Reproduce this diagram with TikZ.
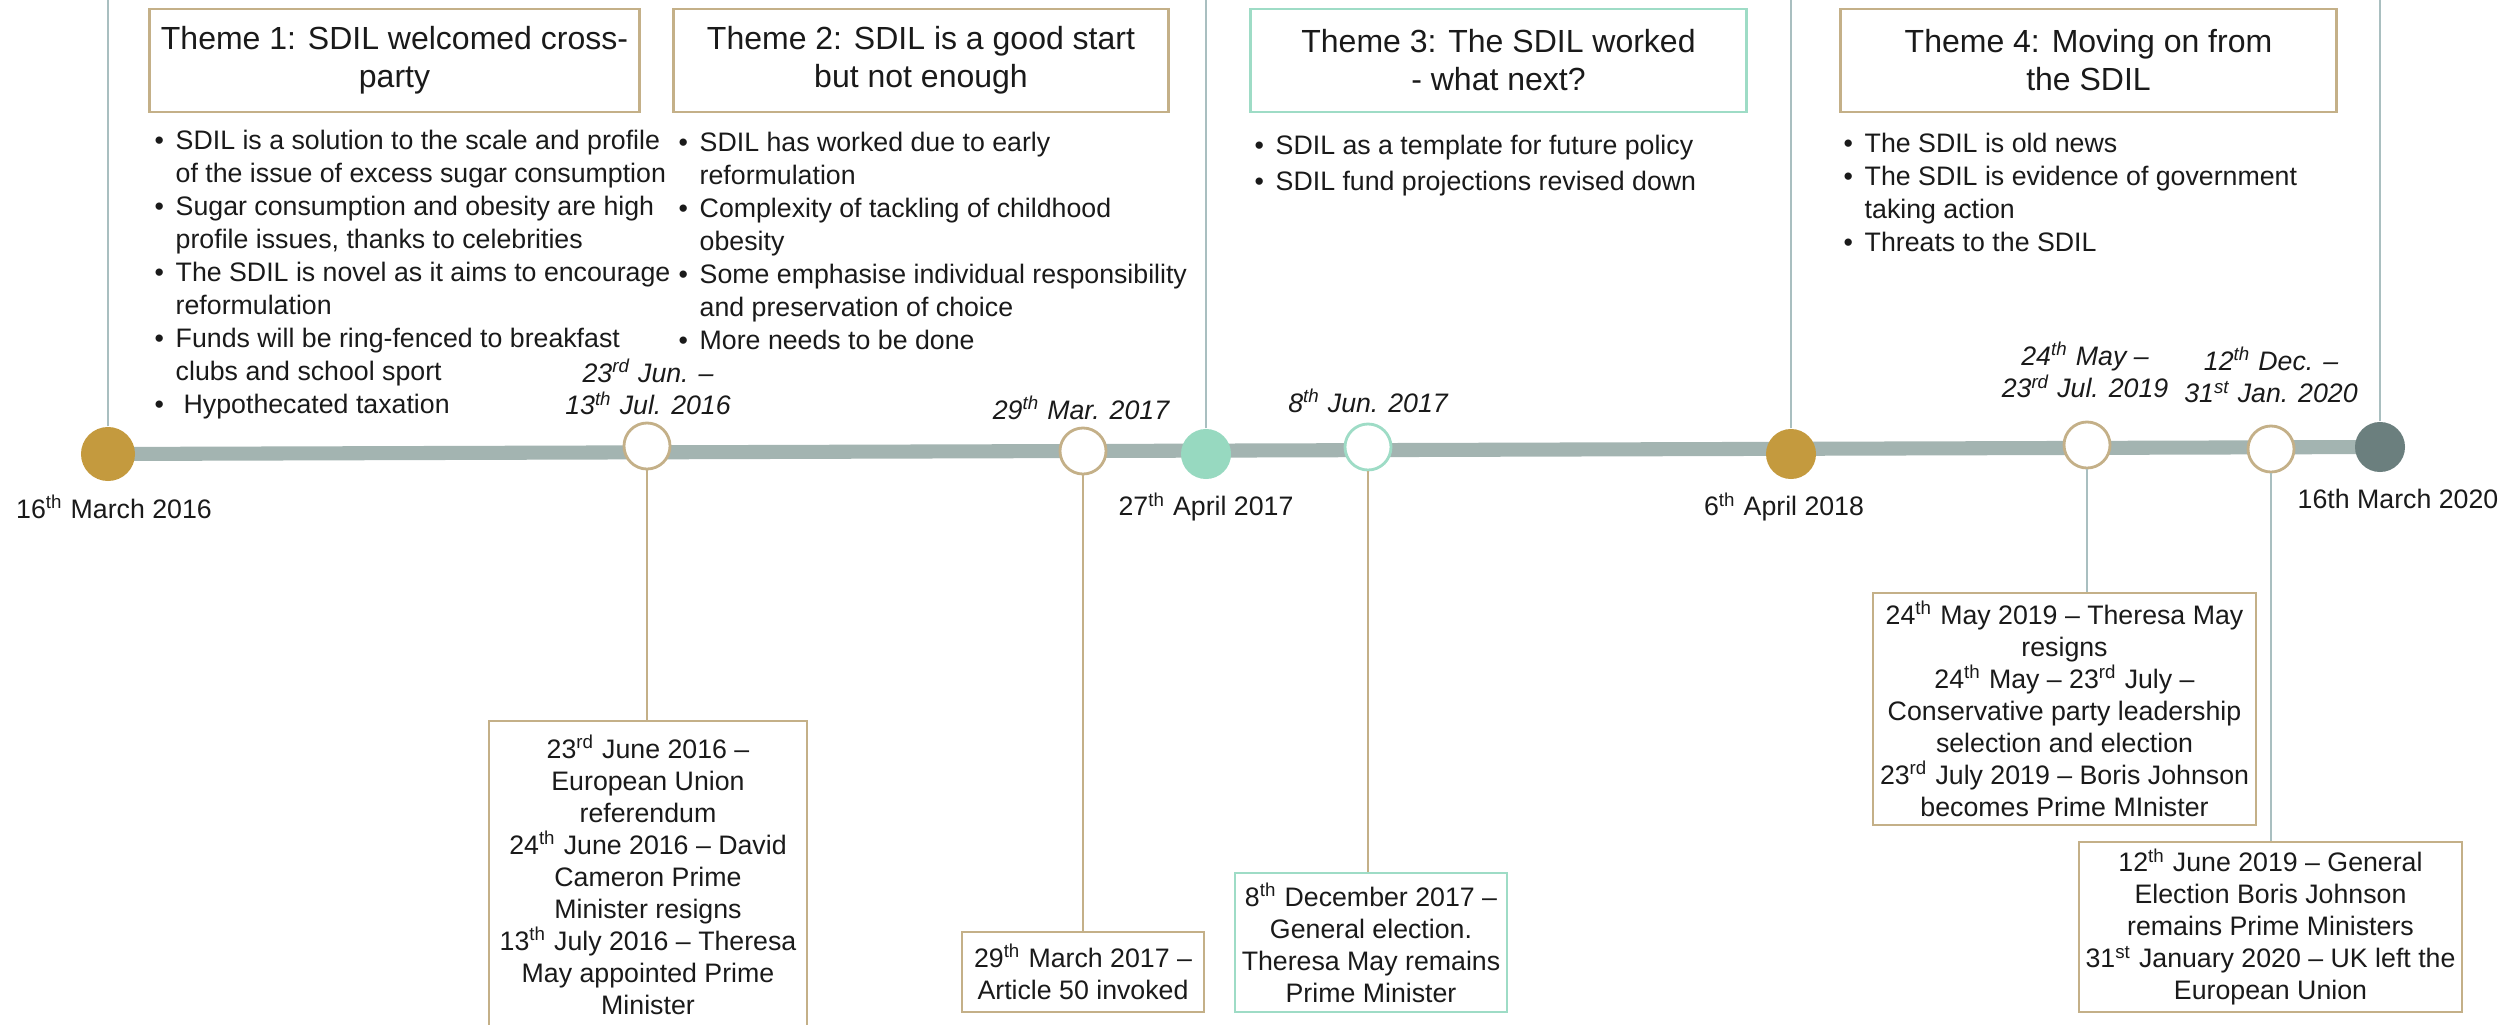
\documentclass[tikz,border=0pt]{standalone}
\usepackage{fontspec}
\setmainfont{Liberation Sans}
\usetikzlibrary{backgrounds}

\definecolor{goldfill}{RGB}{196,154,62}
\definecolor{mintfill}{RGB}{151,217,192}
\definecolor{slatefill}{RGB}{107,127,126}
\definecolor{barcol}{RGB}{163,180,177}
\definecolor{stemcol}{RGB}{169,191,192}
\definecolor{tancol}{RGB}{196,176,136}
\definecolor{mintline}{RGB}{158,220,198}
\definecolor{inkcol}{RGB}{26,26,26}

\newcommand{\bl}{\makebox[2.1mm][l]{\textbullet}}
\newcommand{\bc}{\hspace*{2.1mm}}
\newcommand{\sps}[1]{\textsuperscript{#1}}

\tikzset{
  bodytext/.style={font=\fontsize{7.6}{9.1}\selectfont, text=inkcol},
  themebox/.style={draw=#1, line width=0.8pt, minimum height=1.03cm, align=center,
    inner sep=0pt, font=\fontsize{9.1}{10.8}\selectfont, text=inkcol},
  eventbox/.style={draw=#1, line width=0.7pt, align=center, inner sep=0pt, bodytext},
  bulletlist/.style={font=\fontsize{7.6}{9.4}\selectfont, text=inkcol, align=left,
    anchor=north west, inner sep=0pt},
  milestone/.style={circle, fill=#1, inner sep=0pt},
  eventring/.style={circle, draw=#1, line width=0.8pt, fill=white, minimum size=0.46cm, inner sep=0pt},
  stem/.style={draw=#1, line width=0.6pt},
  datelbl/.style={bodytext, align=center},
  datetop/.style={datelbl, font=\fontsize{7.6}{9.3}\selectfont\itshape},
}

\begin{document}
\begin{tikzpicture}[x=0.01cm, y=-0.01cm]

\useasboundingbox (0,0) rectangle (2509,1024);
\coordinate (top) at (0,0);

% themes
\node[themebox=tancol, minimum width=4.89cm] (t1) at (394.5,60.5) {Theme 1: SDIL welcomed cross-\\party};
\node[themebox=tancol, minimum width=4.94cm] (t2) at (921,60.5) {Theme 2: SDIL is a good start\\but not enough};
\node[themebox=mintline, minimum width=4.95cm] (t3) at (1498.5,60.5) {Theme 3: The SDIL worked\\- what next?};
\node[themebox=tancol, minimum width=4.95cm] (t4) at (2088.5,60.5) {Theme 4: Moving on from\\the SDIL};

\node[bulletlist] (b1) at (154,129) {\bl SDIL is a solution to the scale and profile\\
\bc of the issue of excess sugar consumption\\
\bl Sugar consumption and obesity are high\\
\bc profile issues, thanks to celebrities\\
\bl The SDIL is novel as it aims to encourage\\
\bc reformulation\\
\bl Funds will be ring-fenced to breakfast\\
\bc clubs and school sport\\
\bl\hspace*{0.8mm}Hypothecated taxation};

\node[bulletlist] (b2) at (678,131) {\bl SDIL has worked due to early\\
\bc reformulation\\
\bl Complexity of tackling of childhood\\
\bc obesity\\
\bl Some emphasise individual responsibility\\
\bc and preservation of choice\\
\bl More needs to be done};

\node[bulletlist] (b3) at (1254,134) {\bl SDIL as a template for future policy\\[0.9pt]
\bl SDIL fund projections revised down};

\node[bulletlist] (b4) at (1843,132) {\bl The SDIL is old news\\
\bl The SDIL is evidence of government\\
\bc taking action\\
\bl Threats to the SDIL};

% timeline
\node[milestone=goldfill, minimum size=0.54cm] (c1) at (108,454) {};
\node[eventring=tancol] (c2) at (647,446) {};
\node[eventring=tancol] (c3) at (1083,451) {};
\node[milestone=mintfill, minimum size=0.50cm] (c4) at (1206,454) {};
\node[eventring=mintline] (c5) at (1368,447) {};
\node[milestone=goldfill, minimum size=0.50cm] (c6) at (1791,454) {};
\node[eventring=tancol] (c7) at (2087,445) {};
\node[eventring=tancol] (c8) at (2271,449) {};
\node[milestone=slatefill, minimum size=0.50cm] (c9) at (2380,447) {};

\begin{scope}[on background layer]
\fill[white] (0,0) rectangle (2509,1024);
\draw[barcol, line width=4pt] (c1.center) -- (c9.center);
\end{scope}

\foreach \c in {c1,c4,c6,c9}{
    \draw[stem=stemcol] (\c) -- (\c |- top);
}

\node[datelbl] (d1) at (114,507) {16\sps{th} March 2016};
\node[datelbl] (d4) at (1206,507) {27\sps{th} April 2017};
\node[datelbl] (d6) at (1784,507) {6\sps{th} April 2018};
\node[datelbl] (d9) at (2398,499) {16th March 2020};

\node[datetop] (d2) at (648,387) {23\sps{rd} Jun. –\\13\sps{th} Jul. 2016};
\node[datetop] (d3) at (1081,408) {29\sps{th} Mar. 2017};
\node[datetop] (d5) at (1368,401) {8\sps{th} Jun. 2017};
\node[datetop] (d7) at (2085,370) {24\sps{th} May –\\23\sps{rd} Jul. 2019};
\node[datetop] (d8) at (2271,375) {12\sps{th} Dec. –\\31\sps{st} Jan. 2020};

% events
\node[eventbox=tancol, minimum width=3.18cm, minimum height=3.07cm] (e1) at (648,874.5)
  {23\sps{rd} June 2016 –\\European Union\\referendum\\24\sps{th} June 2016 – David\\Cameron Prime\\Minister resigns\\13\sps{th} July 2016 – Theresa\\May appointed Prime\\Minister};
\node[eventbox=tancol, minimum width=2.42cm, minimum height=0.80cm] (e2) at (1083,972)
  {29\sps{th} March 2017 –\\Article 50 invoked};
\node[eventbox=mintline, minimum width=2.72cm, minimum height=1.39cm] (e3) at (1371,942.5)
  {8\sps{th} December 2017 –\\General election.\\Theresa May remains\\Prime Minister};
\node[eventbox=tancol, minimum width=3.83cm, minimum height=2.32cm] (e4) at (2064.5,709)
  {24\sps{th} May 2019 – Theresa May\\resigns\\24\sps{th} May – 23\sps{rd} July –\\Conservative party leadership\\selection and election\\23\sps{rd} July 2019 – Boris Johnson\\becomes Prime MInister};
\node[eventbox=tancol, minimum width=3.83cm, minimum height=1.70cm] (e5) at (2270.5,927)
  {12\sps{th} June 2019 – General\\Election Boris Johnson\\remains Prime Ministers\\31\sps{st} January 2020 – UK left the\\European Union};

\draw[stem=tancol] (c2) -- (c2 |- e1.north);
\draw[stem=tancol] (c3) -- (c3 |- e2.north);
\draw[stem=tancol] (c5) -- (c5 |- e3.north);
\draw[stem=stemcol] (c7) -- (c7 |- e4.north);
\draw[stem=stemcol] (c8) -- (c8 |- e5.north);

\end{tikzpicture}
\end{document}
